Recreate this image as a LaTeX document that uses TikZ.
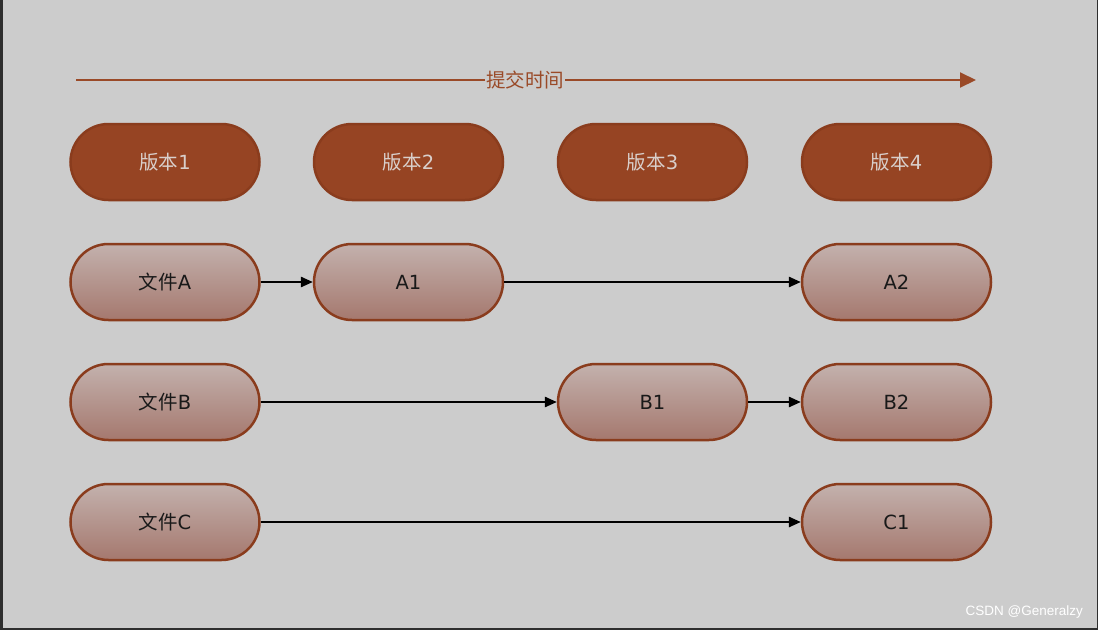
\documentclass[tikz,border=0pt]{standalone}
\usepackage{fontspec}
\setmainfont{DejaVu Sans}
\newfontfamily\cjk{Noto Sans CJK SC}
\newfontfamily\wmfont{Liberation Sans}
\usetikzlibrary{arrows.meta}
\definecolor{bg}{HTML}{CCCCCC}
\definecolor{frame}{HTML}{2E2E2E}
\definecolor{hdrfill}{HTML}{964423}
\definecolor{hdrline}{HTML}{8A3C1D}
\definecolor{hdrtext}{HTML}{D9CFCB}
\definecolor{filetop}{HTML}{C3B1AD}
\definecolor{filebot}{HTML}{A5786E}
\definecolor{timeline}{HTML}{9A4A28}
\tikzset{
  x=1pt, y=-1pt,
  pill/.style={rectangle, rounded corners=38pt, minimum width=189pt, minimum height=76pt,
    line width=2.5pt, draw=hdrline, inner sep=0pt, font=\fontsize{19.5}{22}\selectfont},
  hdrbox/.style={pill, fill=hdrfill, text=hdrtext},
  filebox/.style={pill, top color=filetop, bottom color=filebot, text=black!90},
  link/.style={line width=1.4pt, -{Triangle[length=12pt,width=10.5pt]}, black},
}
\begin{document}
\begin{tikzpicture}
\useasboundingbox (0,0) rectangle (1098,630);
\fill[bg] (0,0) rectangle (1098,630);
\fill[frame] (0,0) rectangle (3,630);
\fill[frame] (1097,0) rectangle (1098,630);
\fill[frame] (0,628) rectangle (1098,630);

% time axis
\coordinate (t0) at (76,80);
\coordinate (t1) at (976,80);
\draw[timeline, line width=2pt, -{Triangle[length=16pt,width=15pt]}] (t0) -- (t1);
\node[fill=bg, text=timeline, inner sep=1pt, font=\cjk\fontsize{19.5}{22}\selectfont] (tl) at (525,80) {提交时间};

% headers
\node[hdrbox] (v1) at (165,162) {{\cjk 版本}1};
\node[hdrbox] (v2) at (408.5,162) {{\cjk 版本}2};
\node[hdrbox] (v3) at (652.5,162) {{\cjk 版本}3};
\node[hdrbox] (v4) at (896.5,162) {{\cjk 版本}4};

% files
\node[filebox] (fa) at (165,282) {{\cjk 文件}A};
\node[filebox] (a1) at (408.5,282) {A1};
\node[filebox] (a2) at (896.5,282) {A2};

\node[filebox] (fb) at (165,402) {{\cjk 文件}B};
\node[filebox] (b1) at (652.5,402) {B1};
\node[filebox] (b2) at (896.5,402) {B2};

\node[filebox] (fc) at (165,522) {{\cjk 文件}C};
\node[filebox] (c1) at (896.5,522) {C1};

\draw[link] (fa) -- (a1);
\draw[link] (a1) -- (a2);
\draw[link] (fb) -- (b1);
\draw[link] (b1) -- (b2);
\draw[link] (fc) -- (c1);

% watermark
\node[anchor=east, text=white, font=\wmfont\fontsize{13.5}{15}\selectfont, inner sep=0pt] (wm) at (1083,612) {CSDN @Generalzy};
\end{tikzpicture}
\end{document}
